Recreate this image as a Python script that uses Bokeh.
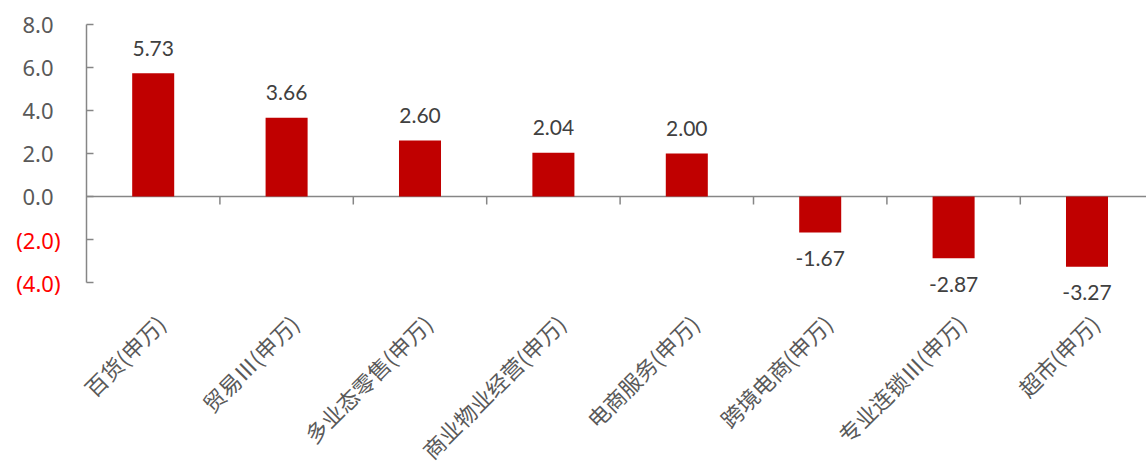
import math
from bokeh.plotting import figure
from bokeh.models import Range1d, LinearAxis, FixedTicker, ColumnDataSource
from bokeh.embed import file_html
from bokeh.resources import INLINE
from bokeh.core.properties import value

categories = ["百货(申万)", "贸易Ⅲ(申万)", "多业态零售(申万)", "商业物业经营(申万)",
              "电商服务(申万)", "跨境电商(申万)", "专业连锁Ⅲ(申万)", "超市(申万)"]
values = [5.73, 3.66, 2.60, 2.04, 2.00, -1.67, -2.87, -3.27]
y_ticks = [-4, -2, 0, 2, 4, 6, 8]
y_tick_labels = ["(4.0)", "(2.0)", "0.0", "2.0", "4.0", "6.0", "8.0"]

n = len(categories)
centers = [i + 0.5 for i in range(n)]
bounds = [i for i in range(1, n)]

GRAY_AX = "#868686"
BAR = "#C00000"

PITCH = 133.4                      # px per category
UNIT = 21.5                        # px per y unit
X_START = -78 / PITCH              # frame starts at the page's left margin
X_END = 1060 / PITCH               # category area is cut at the right edge
Y_END = 8 + 16 / UNIT              # room above the 8.0 label
Y_START = -4 - 182 / UNIT          # room below the axis for the slanted labels

p = figure(width=1146, height=464, x_range=Range1d(X_START, X_END),
           y_range=Range1d(Y_START, Y_END),
           output_backend="svg", toolbar_location=None,
           x_axis_type=None, y_axis_type=None,
           min_border_left=8, min_border_right=0, min_border_top=8, min_border_bottom=0)
p.outline_line_color = None
p.background_fill_color = "white"
p.border_fill_color = "white"
for g in p.grid:
    g.visible = False

# y axis at the start of the category area: line + inward ticks
yaxis = LinearAxis(ticker=FixedTicker(ticks=y_ticks), bounds=(-4, 8), fixed_location=0,
                   major_tick_in=7, major_tick_out=0,
                   minor_tick_line_color=None,
                   axis_line_color=GRAY_AX, axis_line_width=1.5,
                   major_tick_line_color=GRAY_AX, major_tick_line_width=1.5,
                   major_label_overrides={t: "" for t in y_ticks},
                   major_label_standoff=0)
p.add_layout(yaxis, "left")

# y tick labels (grey positives, red bracketed negatives)
ylab = ColumnDataSource(dict(x=[0] * len(y_ticks), y=y_ticks, t=y_tick_labels,
                             c=["#FF0000" if t < 0 else "#595959" for t in y_ticks],
                             xo=[-26 if t < 0 else -33 for t in y_ticks]))
p.text(x="x", y="y", text="t", source=ylab, x_offset="xo", text_color="c",
       text_align="right", text_baseline="middle",
       text_font=value("Noto Sans"), text_font_size="22px")

# slanted category labels under the axis
xlab = ColumnDataSource(dict(x=centers, y=[-4] * n, t=categories))
p.text(x="x", y="y", text="t", source=xlab, x_offset=-4, y_offset=25,
       angle=math.pi / 4, text_align="right", text_baseline="top",
       text_font=value("Noto Sans CJK SC"), text_font_size="22px", text_color="#595959")

# zero line and category boundary ticks
p.ray(x=[0], y=[0], length=0, angle=0, line_color=GRAY_AX, line_width=1.5)
p.ray(x=bounds, y=[0] * len(bounds), length=8, length_units="screen", angle=-math.pi / 2,
      line_color=GRAY_AX, line_width=1.5)

src = ColumnDataSource(dict(x=centers, top=values,
                            lab=[f"{v:.2f}" for v in values],
                            yoff=[-25 if v >= 0 else 26 for v in values]))
p.vbar(x="x", top="top", bottom=0, width=0.315, source=src, fill_color=BAR, line_color=None)
p.text(x="x", y="top", text="lab", source=src, y_offset="yoff",
       text_align="center", text_baseline="alphabetic",
       text_font=value("Lato"), text_font_size="21px", text_color="#404040")

open("out.html", "w").write(file_html(p, INLINE))
